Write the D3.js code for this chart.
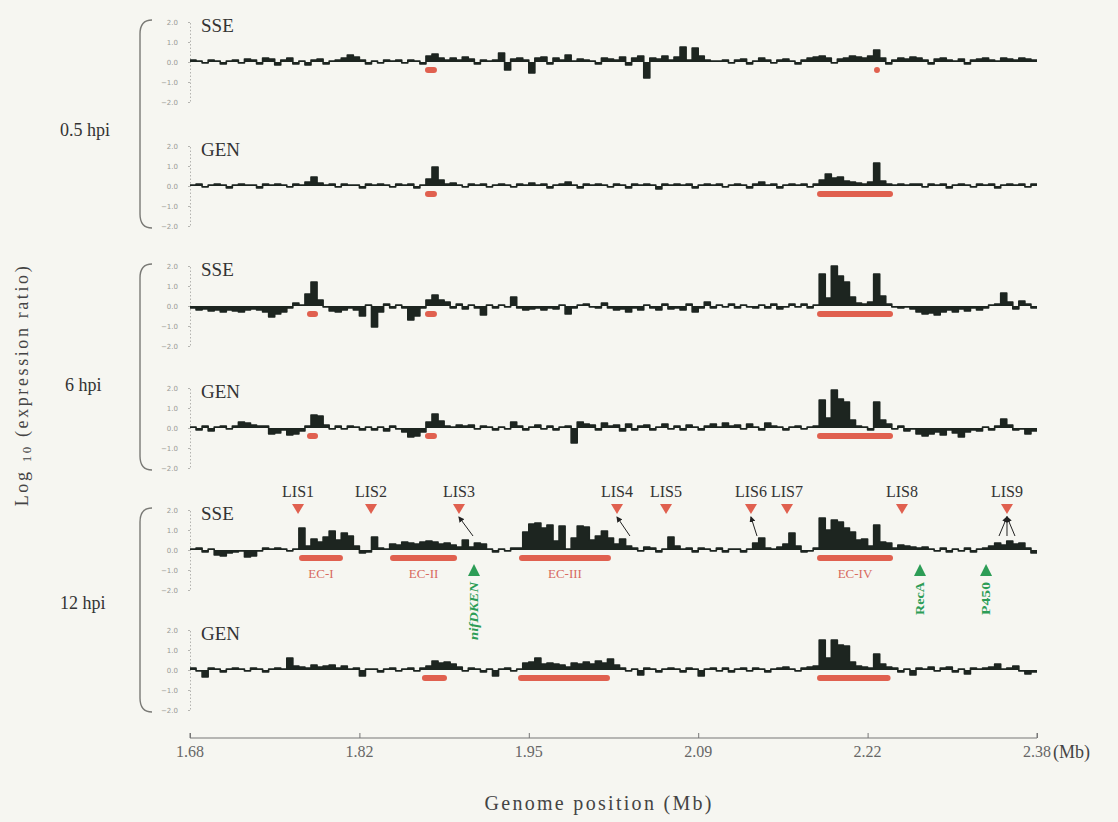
<!DOCTYPE html>
<html>
<head>
<meta charset="utf-8">
<script src="https://cdn.jsdelivr.net/npm/d3@7"></script>
<style>
  html, body { margin: 0; padding: 0; background: #f6f6f1; }
  svg { display: block; font-family: "Liberation Serif", "Times New Roman", serif; }
</style>
</head>
<body>
<svg id="chart" width="1118" height="822"></svg>
<script>
// ---- Data: log10 expression ratio in 5 kb bins from 1.68 Mb ----
const binStart = 1.68;
const binWidth = 0.005;

const sse05 = [
  0.1,0.05,-0.05,0.1,0.05,-0.1,0.05,0.1,-0.05,0.15,
  0.1,-0.1,0.2,0.15,-0.15,0.1,0.2,-0.1,0.05,-0.15,
  0.1,0.15,-0.1,0.05,0.1,0.2,0.35,0.25,0.1,-0.1,
  0.05,-0.05,0.1,0.05,0.1,-0.05,0.1,0.05,-0.1,0.3,
  0.4,0.2,0.1,0.2,0.1,0.25,0.15,-0.1,0.1,0.05,
  0.1,0.45,-0.4,0.15,0.2,0.1,-0.55,0.2,0.25,-0.1,
  0.2,0.1,0.35,0.05,0.15,0.1,0.05,-0.1,0.2,0.15,
  0.1,0.25,-0.15,0.2,0.3,-0.8,0.2,0.15,0.3,0.1,
  0.25,0.75,0.1,0.7,0.3,0.1,0.05,0.05,0.1,-0.05,
  0.1,0.15,-0.1,0.05,0.2,0.1,-0.05,0.1,0.15,0.05,
  -0.1,0.1,0.2,0.25,0.3,0.2,-0.05,0.15,0.2,0.3,
  0.25,0.2,0.3,0.6,0.2,-0.1,0.1,0.2,0.15,0.25,
  0.2,0.1,-0.1,0.15,0.2,0.1,0.05,0.15,-0.1,0.1,
  0.15,0.2,0.1,0.05,0.2,0.15,0.1,0.2,0.15,0.1
];
const gen05 = [
  0.05,0.1,-0.05,0.05,0.1,0.05,-0.1,0.05,0.1,0.05,
  0.05,-0.1,0.1,0.05,0.1,0.05,-0.05,0.1,0.05,0.2,
  0.45,0.15,0.05,0.1,-0.05,0.1,0.05,0.05,-0.1,0.1,
  0.05,0.1,0.05,-0.05,0.1,0.05,0.1,-0.1,0.05,0.35,
  0.95,0.3,0.1,0.15,0.05,-0.05,0.1,0.05,0.1,-0.05,
  0.05,0.1,0.05,-0.05,0.1,0.05,0.15,0.05,0.1,-0.1,
  0.05,0.1,0.2,0.05,-0.1,0.1,0.05,0.1,0.05,-0.05,
  0.1,0.05,-0.1,0.1,0.05,0.1,0.05,-0.15,0.1,0.05,
  0.1,0.05,0.1,-0.1,0.05,0.1,0.05,0.1,-0.05,0.05,
  0.1,0.05,-0.1,0.1,0.2,0.05,0.1,-0.1,0.05,0.1,
  0.05,0.1,-0.05,0.1,0.3,0.6,0.4,0.45,0.25,0.2,
  0.15,0.1,0.2,1.15,0.25,0.1,0.05,0.1,0.05,0.1,
  0.1,-0.05,0.1,0.05,0.1,-0.1,0.05,0.1,0.05,-0.05,
  0.1,0.05,0.1,-0.1,0.05,0.1,0.05,0.1,-0.05,0.1
];
const sse6 = [
  -0.1,-0.2,-0.15,-0.25,-0.2,-0.3,-0.2,-0.25,-0.3,-0.2,
  -0.15,-0.2,-0.3,-0.55,-0.4,-0.3,-0.1,0.15,0.05,0.6,
  1.2,0.3,-0.05,-0.25,-0.3,-0.2,-0.1,-0.2,-0.5,0.05,
  -1.05,-0.3,0.1,-0.1,0.05,-0.1,-0.7,-0.5,-0.1,0.3,
  0.55,0.3,0.2,-0.1,0.1,-0.15,0.05,-0.1,-0.45,0.05,
  -0.1,0.05,-0.05,0.45,-0.1,-0.2,-0.15,-0.1,-0.2,-0.1,
  -0.15,0.05,-0.4,-0.1,0.05,0.1,-0.05,-0.1,0.15,-0.1,
  -0.2,-0.15,-0.3,-0.1,-0.2,0.05,-0.1,-0.2,0.1,-0.15,
  -0.1,-0.2,0.1,-0.3,-0.1,0.2,-0.1,0.05,-0.05,0.1,
  -0.1,0.05,-0.05,-0.1,0.05,-0.1,0.1,-0.15,-0.05,0.1,
  -0.05,0.1,-0.1,0.05,1.6,0.4,2.0,1.5,1.2,0.45,
  0.15,0.1,0.2,1.6,0.5,0.1,-0.05,-0.1,-0.05,-0.15,
  -0.3,-0.4,-0.35,-0.45,-0.3,-0.2,-0.3,-0.15,-0.25,-0.1,
  -0.2,-0.1,0.05,0.1,0.65,0.2,-0.15,0.25,0.1,-0.1
];
const gen6 = [
  0.05,-0.1,0.1,-0.15,0.05,0.1,-0.05,0.1,0.3,0.25,
  0.15,0.1,0.1,-0.3,-0.25,-0.1,-0.35,-0.3,-0.15,0.1,
  0.65,0.6,0.15,-0.05,0.1,-0.05,0.1,0.05,-0.1,0.05,
  -0.1,0.05,-0.15,0.1,-0.05,-0.2,-0.45,-0.4,-0.2,0.3,
  0.7,0.35,0.1,0.05,0.15,0.1,0.15,-0.05,0.1,0.05,
  -0.1,0.05,-0.05,0.3,0.1,-0.1,0.05,0.15,-0.05,0.1,
  -0.1,0.05,0.1,-0.75,0.3,0.2,0.15,-0.1,0.25,0.1,
  0.15,-0.15,0.2,-0.1,0.1,0.15,-0.1,0.05,0.2,-0.05,
  0.1,-0.1,0.15,0.05,-0.1,0.1,0.2,0.05,0.25,0.1,
  0.15,-0.05,0.2,0.05,-0.1,0.25,0.1,0.05,-0.1,0.05,
  0.1,-0.05,0.05,0.1,1.4,0.5,1.9,1.45,1.3,0.4,
  0.1,0.05,-0.1,1.3,0.4,0.2,-0.05,0.1,-0.15,-0.05,
  -0.3,-0.4,-0.3,-0.2,-0.35,-0.1,-0.25,-0.45,-0.2,-0.1,
  -0.15,0.05,-0.1,0.1,0.45,0.15,-0.1,-0.05,-0.3,-0.15
];
const sse12 = [
  0.05,0.1,-0.1,0.05,-0.25,-0.3,-0.15,-0.1,-0.05,-0.35,
  -0.3,-0.05,0.1,0.05,0.1,0.05,-0.05,0.05,1.1,0.2,
  0.55,0.4,0.65,0.95,0.5,0.85,0.7,0.2,-0.15,-0.1,
  0.65,0.1,0.05,0.3,0.25,0.4,0.35,0.3,0.4,0.45,
  0.4,0.3,0.35,0.25,0.15,0.5,0.15,0.35,0.3,0.05,
  -0.1,0.05,-0.05,0.1,0.1,0.9,1.3,1.35,1.1,1.25,
  0.45,1.2,0.05,0.6,1.2,1.15,0.5,0.7,0.95,0.6,
  0.3,0.55,0.2,0.1,-0.05,0.15,0.1,-0.1,0.05,0.65,
  0.2,0.05,0.1,-0.1,0.1,0.05,-0.05,0.1,-0.1,0.05,
  0.05,-0.1,0.05,0.35,0.6,0.1,0.05,0.15,0.3,0.85,
  0.2,-0.1,-0.05,0.1,1.6,1.0,1.5,1.4,1.1,0.9,
  0.5,0.55,0.2,1.25,0.4,0.35,0.1,0.25,0.2,0.15,
  0.1,0.15,0.05,-0.05,0.1,-0.1,0.05,-0.05,0.1,-0.1,
  0.05,0.1,0.2,0.35,0.25,0.45,0.3,0.35,0.1,-0.15
];
const gen12 = [
  0.1,-0.05,-0.35,0.1,0.05,-0.1,0.05,0.1,0.05,-0.05,
  0.1,0.05,-0.1,0.05,0.1,0.05,0.6,0.2,0.15,0.1,
  0.25,0.15,0.2,0.25,0.1,0.2,0.05,0.1,-0.3,0.05,
  0.05,-0.1,0.05,0.1,-0.05,0.05,0.1,-0.05,0.1,0.2,
  0.45,0.35,0.4,0.3,0.15,-0.05,0.1,0.05,-0.1,0.05,
  -0.3,0.05,0.1,-0.05,0.05,0.35,0.4,0.6,0.3,0.35,
  0.3,0.25,0.15,0.35,0.3,0.4,0.3,0.45,0.35,0.55,
  0.25,0.1,-0.05,0.05,-0.25,0.1,0.05,-0.1,0.05,0.1,
  0.05,-0.1,0.1,0.05,-0.3,0.05,0.1,-0.05,0.1,-0.1,
  0.05,0.1,-0.05,0.1,0.05,-0.1,0.05,0.1,0.15,0.05,
  -0.05,0.1,0.15,0.2,1.5,0.6,1.5,1.25,1.2,0.4,
  0.2,0.15,0.1,0.8,0.3,0.15,0.1,-0.1,0.05,-0.25,
  0.1,0.05,0.15,-0.05,0.1,0.15,-0.1,0.05,-0.2,0.1,
  0.05,0.1,0.15,0.3,0.05,0.1,0.2,-0.05,-0.2,-0.1
];

// Induced regions (Mb) under each track
const ecSse05 = [[1.8742, 1.8841], [2.2453, 2.2502]];
const ecGen05 = [[1.8742, 1.8841], [2.1982, 2.2610]];
const ecSse6  = [[1.7767, 1.7858], [1.8742, 1.8841], [2.1982, 2.2610]];
const ecGen6  = [[1.7767, 1.7858], [1.8742, 1.8841], [2.1982, 2.2610]];
const ecSse12 = [[1.7701, 1.8064], [1.8453, 1.9007], [1.9519, 2.0279], [2.1982, 2.2610]];
const ecGen12 = [[1.8717, 1.8924], [1.9511, 2.0271], [2.1982, 2.2590]];

const trackNames = ["SSE", "GEN", "SSE", "GEN", "SSE", "GEN"];
const timeLabels = ["0.5 hpi", "6 hpi", "12 hpi"];

const ecNames = ["EC-I", "EC-II", "EC-III", "EC-IV"];

const lisNames = ["LIS1", "LIS2", "LIS3", "LIS4", "LIS5", "LIS6", "LIS7", "LIS8", "LIS9"];
const lisPos = [1.7693, 1.8296, 1.9023, 2.0329, 2.0734, 2.1436, 2.1734, 2.2684, 2.3552];
// pointer lines from a LIS marker to the peak(s) it refers to
const lisPointers = [[2, [1.9139]], [3, [2.0436]], [5, [2.1486]], [8, [2.3486, 2.3552, 2.3618]]];

const geneNames = ["nifDKEN", "RecA", "P450"];
const genePos = [1.9147, 2.2833, 2.3379];

const xTickValues = [1.68, 1.82, 1.96, 2.10, 2.24, 2.38];
const xTickLabels = ["1.68", "1.82", "1.95", "2.09", "2.22", "2.38"];
const yTickValues = [2, 1, 0, -1, -2];

// ---- Layout ----
const tracks = [
  { values: sse05, ec: ecSse05, base: 62 },
  { values: gen05, ec: ecGen05, base: 186 },
  { values: sse6,  ec: ecSse6,  base: 306 },
  { values: gen6,  ec: ecGen6,  base: 428 },
  { values: sse12, ec: ecSse12, base: 550 },
  { values: gen12, ec: ecGen12, base: 670 }
];
tracks.forEach((t, i) => t.name = trackNames[i]);

const svg = d3.select("#chart");
const x = d3.scaleLinear().domain([1.68, 2.38]).range([190, 1037]);

const ink = "#1d2520";
const red = "#e0604f";
const green = "#2c9d56";

// arrowhead for pointer lines
svg.append("defs").append("marker")
  .attr("id", "arrowhead")
  .attr("viewBox", "0 0 6 6").attr("refX", 5).attr("refY", 3)
  .attr("markerWidth", 6).attr("markerHeight", 6)
  .attr("orient", "auto")
  .append("path").attr("d", "M0,0 L6,3 L0,6 Z").attr("fill", "#222");

tracks.forEach(t => {
  const y = d3.scaleLinear().domain([-2, 2]).range([t.base + 40, t.base - 40]);
  t.y = y;
  const g = svg.append("g");

  // y axis (dotted)
  const axis = d3.axisLeft(y).tickValues(yTickValues)
    .tickFormat(d3.format(".1f")).tickSize(2).tickPadding(10);
  const ag = g.append("g").attr("transform", "translate(190,0)").call(axis);
  ag.select(".domain").attr("stroke", "#b4b4b0").attr("stroke-dasharray", "1.5,2");
  ag.selectAll(".tick line").attr("stroke", "#b4b4b0");
  ag.selectAll(".tick text").attr("fill", "#9a9a96").style("font-size", "7px")
    .style("font-family", "'DejaVu Sans', sans-serif");

  // track label
  g.append("text").attr("x", 201).attr("y", t.base - 30)
    .style("font-size", "19px").attr("fill", "#333").text(t.name);

  // expression profile as stepped bars from the zero line
  const pts = t.values.map((v, i) => ({ p: binStart + i * binWidth, v }));
  pts.push({ p: binStart + t.values.length * binWidth, v: t.values[t.values.length - 1] });
  const area = d3.area().curve(d3.curveStepAfter)
    .x(d => x(d.p)).y0(y(0)).y1(d => y(d.v));
  const line = d3.line().curve(d3.curveStepAfter)
    .x(d => x(d.p)).y(d => y(d.v));
  g.append("path").datum(pts).attr("d", area).attr("fill", ink);
  g.append("path").datum(pts).attr("d", line).attr("fill", "none")
    .attr("stroke", ink).attr("stroke-width", 1.6).attr("stroke-linejoin", "round");

  // induced regions
  g.selectAll("rect.ec").data(t.ec).join("rect").attr("class", "ec")
    .attr("x", d => x(d[0])).attr("width", d => x(d[1]) - x(d[0]))
    .attr("y", y(0) + 5).attr("height", 6).attr("rx", 3)
    .attr("fill", red);
});

// EC labels below the 12 hpi SSE regions
const t12 = tracks[4];
svg.selectAll("text.eclab").data(ecSse12).join("text").attr("class", "eclab")
  .attr("x", d => x((d[0] + d[1]) / 2)).attr("y", t12.base + 28)
  .attr("text-anchor", "middle").style("font-size", "13px")
  .attr("fill", "#d86a5e").text((d, i) => ecNames[i]);

// LIS markers
const lisY = 509;
lisPos.forEach((p, i) => {
  const cx = x(p);
  svg.append("path")
    .attr("d", `M${cx - 6},${lisY - 5} L${cx + 6},${lisY - 5} L${cx},${lisY + 5} Z`)
    .attr("fill", red);
  svg.append("text").attr("x", cx).attr("y", 497).attr("text-anchor", "middle")
    .style("font-size", "16px").attr("fill", "#333").text(lisNames[i]);
});
lisPointers.forEach(([idx, targets]) => {
  targets.forEach(tp => {
    svg.append("line")
      .attr("x1", x(tp)).attr("y1", 536)
      .attr("x2", x(lisPos[idx])).attr("y2", 517)
      .attr("stroke", "#222").attr("stroke-width", 1)
      .attr("marker-end", "url(#arrowhead)");
  });
});

// gene markers
const geneY = 570;
genePos.forEach((p, i) => {
  const cx = x(p);
  svg.append("path")
    .attr("d", `M${cx - 6},${geneY + 6} L${cx + 6},${geneY + 6} L${cx},${geneY - 6} Z`)
    .attr("fill", green);
  const len = i === 0 ? 58 : 33;
  svg.append("text")
    .attr("transform", `translate(${cx + 4},${582 + len}) rotate(-90)`)
    .style("font-size", "12px").style("font-weight", "bold")
    .style("font-style", i === 0 ? "italic" : "normal")
    .attr("textLength", len).attr("lengthAdjust", "spacingAndGlyphs")
    .attr("fill", green).text(geneNames[i]);
});

// group brackets and time labels
const groups = [[20, 228, 136, 60], [264, 470, 391, 65], [508, 712, 609, 60]];
groups.forEach(([top, bot, ly, lx], i) => {
  svg.append("path")
    .attr("d", `M152,${top} Q140,${top} 140,${top + 14} L140,${bot - 14} Q140,${bot} 152,${bot}`)
    .attr("fill", "none").attr("stroke", "#7a7a76").attr("stroke-width", 1.4);
  svg.append("text").attr("x", lx).attr("y", ly)
    .style("font-size", "18px").attr("fill", "#333").text(timeLabels[i]);
});

// x axis
const xAxis = d3.axisTop(x).tickValues(xTickValues).tickSize(5).tickFormat("");
const xg = svg.append("g").attr("transform", "translate(0,738)").call(xAxis);
xg.select(".domain").attr("stroke", "#777").attr("d", `M${x(1.68)},733V738H${x(2.38)}V733`)
  .attr("transform", "translate(0,-738)");
xg.selectAll(".tick line").attr("stroke", "#777");
svg.selectAll("text.xtl").data(xTickValues).join("text").attr("class", "xtl")
  .attr("x", d => x(d)).attr("y", 757).attr("text-anchor", "middle")
  .style("font-size", "16px").attr("fill", "#666")
  .text((d, i) => xTickLabels[i]);
svg.append("text").attr("x", 1053).attr("y", 758)
  .style("font-size", "18px").attr("fill", "#444").text("(Mb)");

// axis titles
svg.append("text").attr("x", 598).attr("y", 810).attr("text-anchor", "middle")
  .style("font-size", "20px").attr("fill", "#444")
  .attr("textLength", 227).attr("lengthAdjust", "spacing")
  .text("Genome position (Mb)");

const yt = svg.append("text")
  .attr("transform", "translate(28,385) rotate(-90)")
  .attr("text-anchor", "middle").style("font-size", "18px")
  .style("letter-spacing", "2.6px").attr("fill", "#444");
yt.append("tspan").text("Log ");
yt.append("tspan").style("font-size", "13px").attr("dy", 3).text("10");
yt.append("tspan").attr("dy", -3).text(" (expression ratio)");
</script>
</body>
</html>
